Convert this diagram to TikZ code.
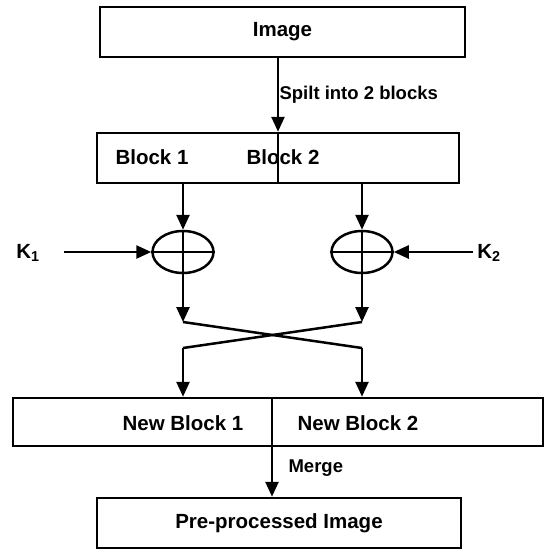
\documentclass[tikz,border=0pt]{standalone}
\usepackage{fontspec}
\setmainfont{Liberation Sans}
\usetikzlibrary{arrows.meta,positioning,shapes.geometric}

\tikzset{
    box/.style = {draw, rectangle, line width=2.5pt, inner sep=0pt},
    xorop/.style = {draw, ellipse, line width=2.5pt, minimum width=61pt,
                    minimum height=42pt, inner sep=0pt},
    flow/.style = {line width=2.5pt, -{Triangle[length=15pt,width=13pt]}},
    wire/.style = {line width=2.5pt},
    edgelbl/.style = {right, font=\fontsize{18.5}{22}\selectfont\bfseries}
}

\begin{document}
\begin{tikzpicture}[x=1pt, y=-1pt, font=\fontsize{20.5}{24}\selectfont\bfseries]
\useasboundingbox (0,0) rectangle (546,550);
% boxes
\node[box, minimum width=365pt, minimum height=50pt] (image) at (282.5,32) {Image};
\node[box, minimum width=362pt, minimum height=50pt] (blocks) at (278,158) {};
\node[box, minimum width=530pt, minimum height=48pt] (newblocks) at (278,422) {};
\node[box, minimum width=364pt, minimum height=50pt] (result) at (279,523) {Pre-processed Image};
\draw[wire] (blocks.north) -- (blocks.south);
\draw[wire] (newblocks.north -| 272,0) -- (newblocks.south -| 272,0);
\node (b1) at (152,157) {Block 1};
\node (b2) at (283,157) {Block 2};
\node (nb1) at (183,423) {New Block 1};
\node (nb2) at (358,423) {New Block 2};
% xor
\node[xorop] (x1) at (183,252) {};
\node[xorop] (x2) at (362,252) {};
\foreach \x in {x1,x2} {
    \draw[wire] (\x.north) -- (\x.south);
    \draw[wire] (\x.west) -- (\x.east);
}
\node (k1) at (28,253) {K\textsubscript{1}};
\node (k2) at (489,253) {K\textsubscript{2}};
\coordinate (k1end) at (64,252);
\coordinate (k2end) at (473,252);
% crossing
\coordinate (l1) at (183,322);
\coordinate (r1) at (362,322);
\coordinate (l2) at (183,348);
\coordinate (r2) at (362,348);
% connectors
\draw[flow] (image.south -| blocks.north) -- node[edgelbl, xshift=-3pt] {Spilt into 2 blocks} (blocks.north);
\draw[flow] (blocks.south -| x1) -- (x1.north);
\draw[flow] (blocks.south -| x2) -- (x2.north);
\draw[flow] (k1end) -- (x1.west);
\draw[flow] (k2end) -- (x2.east);
\draw[flow] (x1.south) -- (l1);
\draw[flow] (x2.south) -- (r1);
\draw[wire] (l1) -- (r2);
\draw[wire] (r1) -- (l2);
\draw[flow] (l2) -- (newblocks.north -| l2);
\draw[flow] (r2) -- (newblocks.north -| r2);
\draw[flow] (newblocks.south -| 272,0) -- node[edgelbl, xshift=12pt, yshift=4pt] {Merge} (result.north -| 272,0);
\end{tikzpicture}
\end{document}
